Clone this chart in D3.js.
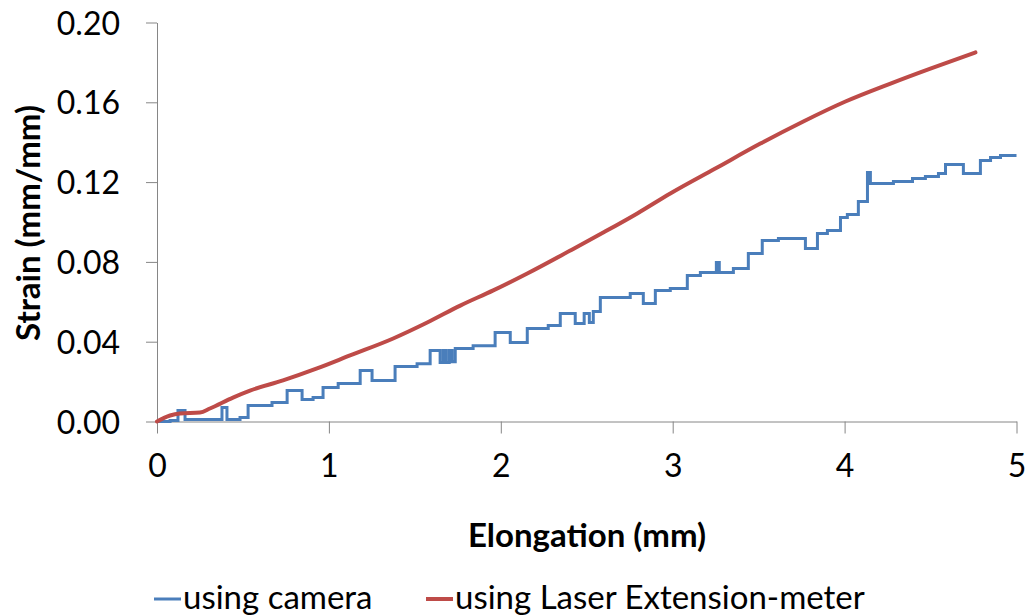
<!DOCTYPE html>
<html>
<head>
<meta charset="utf-8">
<script src="https://cdn.jsdelivr.net/npm/d3@7"></script>
<style>
  body { margin: 0; background: #fff; }
  svg { display: block; font-family: Lato, "Open Sans", sans-serif; }
</style>
</head>
<body>
<div id="chart"></div>
<script>
    // values
    const cameraElongation = [0, 0.076, 0.122, 0.163, 0.378, 0.407, 0.483, 0.530, 0.669, 0.757, 0.844, 0.908,
        0.966, 1.054, 1.182, 1.251, 1.385, 1.513, 1.589, 1.647, 1.665, 1.682, 1.700, 1.717, 1.735, 1.839,
        1.967, 2.055, 2.154, 2.276, 2.346, 2.433, 2.485, 2.515, 2.538, 2.579, 2.753, 2.829, 2.899, 2.986,
        3.085, 3.161, 3.254, 3.271, 3.353, 3.440, 3.521, 3.615, 3.725, 3.772, 3.842, 3.900, 3.976, 4.016,
        4.080, 4.121, 4.133, 4.150, 4.284, 4.395, 4.470, 4.546, 4.587, 4.691, 4.790, 4.849, 4.907, 5.0];
    const cameraStrain = [0, 0.0005, 0.0055, 0.001, 0.007, 0.001, 0.002, 0.008, 0.0095, 0.0155, 0.011, 0.012,
        0.017, 0.019, 0.0256, 0.0206, 0.0276, 0.029, 0.0356, 0.0296, 0.0356, 0.0296, 0.0356, 0.030, 0.0366, 0.038,
        0.0446, 0.0396, 0.0466, 0.0481, 0.0541, 0.0491, 0.0541, 0.0496, 0.0551, 0.0622, 0.0642, 0.0591, 0.0657, 0.0667,
        0.0732, 0.0747, 0.0797, 0.0747, 0.0767, 0.0842, 0.0907, 0.0917, 0.0917, 0.0867, 0.0942, 0.0957, 0.1023, 0.1038,
        0.1103, 0.1103, 0.1248, 0.1193, 0.1203, 0.1218, 0.1228, 0.1243, 0.1288, 0.1243, 0.1308, 0.1323, 0.1333, 0.1333];

    const laserElongation = [0, 0.076, 0.134, 0.25, 0.308, 0.442, 0.541, 0.733, 0.931, 1.123, 1.374, 1.572,
        1.764, 1.956, 2.154, 2.404, 2.596, 2.794, 2.986, 3.248, 3.510, 3.760, 4.005, 4.267, 4.499, 4.761];
    const laserStrain = [0, 0.003, 0.004, 0.0045, 0.0065, 0.012, 0.0155, 0.0206, 0.0266, 0.0331, 0.0416, 0.0496,
        0.0581, 0.0657, 0.0742, 0.0857, 0.0947, 0.1043, 0.1143, 0.1268, 0.1393, 0.1504, 0.1604, 0.1694, 0.1769, 0.1850];

    const xTicks = [0, 1, 2, 3, 4, 5];
    const yTicks = [0, 0.04, 0.08, 0.12, 0.16, 0.20];
    const seriesNames = ["using camera", "using Laser Extension-meter"];
    const seriesColors = ["#4a7ebb", "#be4b48"];

    const WIDTH = 1029;
    const HEIGHT = 615;
    const AXIS_COLOR = "#868686";
    const FONT_SIZE = 32;

    var svg = d3.select("#chart").append("svg")
        .attr("width", WIDTH)
        .attr("height", HEIGHT);

    var x = d3.scaleLinear().domain([0, 5]).range([157, 1016.5]);
    var y = d3.scaleLinear().domain([0, 0.20]).range([421.5, 22.5]);

    // y axis
    var yAxis = svg.append("g")
        .attr("transform", "translate(157,0)")
        .call(d3.axisLeft(y).tickValues(yTicks).tickFormat(d3.format(".2f")).tickSize(11).tickSizeOuter(0).tickPadding(26));
    yAxis.select(".domain").attr("stroke", AXIS_COLOR);
    yAxis.selectAll(".tick line").attr("stroke", AXIS_COLOR);
    yAxis.selectAll(".tick text")
        .attr("font-family", "Lato, sans-serif")
        .attr("font-size", FONT_SIZE)
        .attr("fill", "#000")
        .attr("dy", "0.36em");

    // x axis
    var xAxis = svg.append("g")
        .attr("transform", "translate(0,421.5)")
        .call(d3.axisBottom(x).tickValues(xTicks).tickFormat(d3.format("d")).tickSize(12).tickSizeOuter(0).tickPadding(21));
    xAxis.select(".domain").attr("stroke", AXIS_COLOR);
    xAxis.selectAll(".tick line").attr("stroke", AXIS_COLOR);
    xAxis.selectAll(".tick text")
        .attr("font-family", "Lato, sans-serif")
        .attr("font-size", FONT_SIZE)
        .attr("fill", "#000");

    // axis titles
    svg.append("text")
        .attr("transform", "translate(40,223) rotate(-90)")
        .attr("text-anchor", "middle")
        .attr("font-size", 33)
        .attr("font-weight", "bold")
        .text("Strain (mm/mm)");

    svg.append("text")
        .attr("x", 587)
        .attr("y", 547)
        .attr("text-anchor", "middle")
        .attr("font-size", 33)
        .attr("font-weight", "bold")
        .text("Elongation (mm)");

    // series
    var cameraData = cameraElongation.map(function (d, i) { return [d, cameraStrain[i]]; });
    var laserData = laserElongation.map(function (d, i) { return [d, laserStrain[i]]; });

    svg.append("path")
        .datum(cameraData)
        .attr("fill", "none")
        .attr("stroke", seriesColors[0])
        .attr("stroke-width", 3)
        .attr("d", d3.line().x(function (d) { return x(d[0]); }).y(function (d) { return y(d[1]); }).curve(d3.curveStepAfter));

    svg.append("path")
        .datum(laserData)
        .attr("fill", "none")
        .attr("stroke", seriesColors[1])
        .attr("stroke-width", 4)
        .attr("stroke-linecap", "round")
        .attr("d", d3.line().x(function (d) { return x(d[0]); }).y(function (d) { return y(d[1]); }).curve(d3.curveMonotoneX));

    // legend
    var legendX = [154, 426];
    seriesNames.forEach(function (name, i) {
        svg.append("line")
            .attr("x1", legendX[i])
            .attr("x2", legendX[i] + 27)
            .attr("y1", 599)
            .attr("y2", 599)
            .attr("stroke", seriesColors[i])
            .attr("stroke-width", i == 0 ? 3 : 4);
        svg.append("text")
            .attr("x", legendX[i] + 29)
            .attr("y", 609)
            .attr("font-size", 33)
            .text(name);
    });
</script>
</body>
</html>
